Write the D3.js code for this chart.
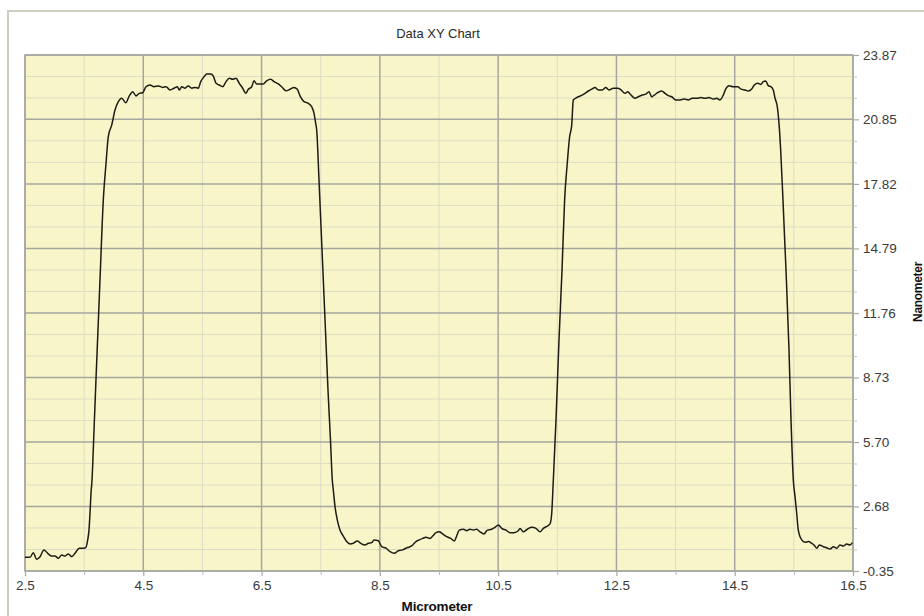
<!DOCTYPE html>
<html>
<head>
<meta charset="utf-8">
<script src="https://cdn.jsdelivr.net/npm/d3@7"></script>
<style>
  html, body { margin: 0; padding: 0; background: #ffffff; }
  svg { display: block; font-family: "Liberation Sans", Arial, sans-serif; }
</style>
</head>
<body>
<svg id="chart" width="924" height="616"></svg>
<script>
// ---------------- DATA ----------------
const chartTitle = "Data XY Chart";
const xAxisTitle = "Micrometer";
const yAxisTitle = "Nanometer";

const xTickLabels = ["2.5", "4.5", "6.5", "8.5", "10.5", "12.5", "14.5", "16.5"];
const yTickLabels = ["-0.35", "2.68", "5.70", "8.73", "11.76", "14.79", "17.82", "20.85", "23.87"];

const xValues = [
  2.500, 2.585, 2.640, 2.698, 2.754, 2.821, 2.894, 2.951, 3.007, 3.063, 3.121, 3.176, 3.232, 3.290, 3.345, 3.418, 3.486, 3.526, 3.560, 3.582, 3.599, 3.616, 3.633,
  3.667, 3.700, 3.734, 3.768, 3.824, 3.870, 3.908, 3.966, 4.022, 4.078, 4.135, 4.203, 4.264, 4.321, 4.377, 4.433, 4.490, 4.546, 4.614, 4.681, 4.754, 4.828, 4.884,
  4.952, 5.019, 5.075, 5.109, 5.150, 5.205, 5.261, 5.319, 5.374, 5.430, 5.471, 5.527, 5.572, 5.640, 5.684, 5.730, 5.785, 5.843, 5.899, 5.954, 6.012, 6.068,
  6.123, 6.181, 6.232, 6.276, 6.333, 6.372, 6.418, 6.473, 6.529, 6.587, 6.654, 6.710, 6.783, 6.840, 6.913, 6.981, 7.048, 7.104, 7.150, 7.218, 7.290, 7.348,
  7.387, 7.415, 7.432, 7.471, 7.522, 7.573, 7.623, 7.665, 7.696, 7.713, 7.742, 7.781, 7.826, 7.882, 7.939, 7.995, 8.051, 8.118, 8.176, 8.249, 8.305, 8.362,
  8.401, 8.474, 8.531, 8.604, 8.672, 8.744, 8.812, 8.886, 8.942, 9.010, 9.055, 9.111, 9.167, 9.224, 9.280, 9.348, 9.393, 9.449, 9.505, 9.562, 9.630, 9.698,
  9.759, 9.799, 9.843, 9.911, 9.968, 10.024, 10.080, 10.137, 10.193, 10.260, 10.317, 10.391, 10.447, 10.503, 10.560, 10.633, 10.701, 10.768, 10.841, 10.870,
  10.925, 10.993, 11.067, 11.140, 11.208, 11.264, 11.331, 11.377, 11.406, 11.423, 11.433, 11.478, 11.529, 11.580, 11.624, 11.669, 11.708, 11.744, 11.771,
  11.828, 11.901, 11.969, 12.025, 12.082, 12.138, 12.194, 12.262, 12.319, 12.375, 12.447, 12.522, 12.577, 12.645, 12.691, 12.746, 12.814, 12.870, 12.937,
  12.995, 13.051, 13.096, 13.140, 13.208, 13.266, 13.321, 13.377, 13.435, 13.502, 13.575, 13.648, 13.715, 13.783, 13.857, 13.930, 13.998, 14.065, 14.138,
  14.195, 14.251, 14.307, 14.347, 14.403, 14.476, 14.550, 14.606, 14.674, 14.730, 14.787, 14.831, 14.889, 14.944, 14.983, 15.024, 15.068, 15.113, 15.152,
  15.181, 15.220, 15.249, 15.277, 15.316, 15.367, 15.418, 15.452, 15.491, 15.520, 15.548, 15.575, 15.633, 15.689, 15.745, 15.802, 15.841, 15.887, 15.931,
  15.999, 16.056, 16.112, 16.168, 16.225, 16.280, 16.336, 16.393, 16.449, 16.488
];

const yValues = [
  0.29, 0.29, 0.51, 0.20, 0.32, 0.64, 0.45, 0.35, 0.35, 0.25, 0.40, 0.35, 0.45, 0.32, 0.48, 0.72, 0.72, 0.74, 1.11, 1.57, 2.36, 3.30, 3.92,
  6.27, 8.62, 10.96, 13.31, 17.06, 18.79, 20.04, 20.58, 21.29, 21.68, 21.84, 21.63, 21.95, 22.15, 21.95, 22.07, 22.10, 22.38, 22.46, 22.38, 22.42, 22.35, 22.38,
  22.23, 22.31, 22.38, 22.23, 22.38, 22.31, 22.42, 22.31, 22.35, 22.31, 22.62, 22.85, 22.98, 22.98, 22.88, 22.54, 22.46, 22.38, 22.62, 22.78, 22.73, 22.78,
  22.54, 22.31, 22.07, 22.26, 22.38, 22.66, 22.51, 22.51, 22.51, 22.66, 22.73, 22.62, 22.51, 22.38, 22.19, 22.26, 22.35, 22.26, 21.95, 21.68, 21.60, 21.44,
  21.13, 20.66, 20.35, 18.00, 14.72, 11.43, 8.15, 5.80, 3.92, 3.45, 2.67, 2.04, 1.57, 1.29, 1.03, 0.92, 0.95, 1.06, 0.95, 0.87, 0.95, 0.98,
  1.11, 1.07, 0.79, 0.72, 0.56, 0.48, 0.60, 0.64, 0.72, 0.79, 0.87, 1.03, 1.11, 1.18, 1.23, 1.18, 1.29, 1.45, 1.49, 1.39, 1.26, 1.18,
  1.06, 1.29, 1.57, 1.61, 1.54, 1.61, 1.57, 1.61, 1.49, 1.39, 1.57, 1.61, 1.70, 1.81, 1.65, 1.57, 1.45, 1.45, 1.54, 1.65,
  1.49, 1.61, 1.70, 1.65, 1.49, 1.65, 1.76, 1.86, 2.36, 3.30, 3.92, 6.74, 10.49, 13.78, 17.06, 18.80, 20.02, 20.58, 21.76,
  21.87, 21.96, 22.07, 22.18, 22.27, 22.34, 22.23, 22.23, 22.34, 22.23, 22.31, 22.31, 22.23, 22.07, 22.15, 21.99, 21.84, 21.91, 21.99,
  22.03, 22.15, 21.91, 21.99, 22.12, 22.18, 22.07, 21.96, 21.91, 21.76, 21.76, 21.80, 21.76, 21.84, 21.84, 21.87, 21.84, 21.87, 21.80,
  21.84, 21.76, 21.99, 22.27, 22.43, 22.38, 22.38, 22.27, 22.23, 22.18, 22.27, 22.46, 22.54, 22.49, 22.62, 22.65, 22.43, 22.38, 22.23,
  21.85, 21.44, 20.66, 19.41, 17.06, 13.78, 10.02, 6.74, 3.92, 3.14, 2.36, 1.57, 1.11, 1.00, 1.03, 0.95, 0.87, 0.72, 0.87,
  0.79, 0.74, 0.68, 0.79, 0.72, 0.87, 0.82, 0.92, 0.87, 0.98
];

// ---------------- CHART ----------------
const svg = d3.select("#chart");
const W = 924, H = 616;
const plot = { left: 25, right: 853, top: 55, bottom: 571 };

const yTickValues = yTickLabels.map(Number);
const xTickValues = xTickLabels.map(Number);

const x = d3.scaleLinear().domain([xTickValues[0], xTickValues[xTickValues.length - 1]]).range([plot.left, plot.right]);
const y = d3.scaleLinear().domain([yTickValues[0], yTickValues[yTickValues.length - 1]]).range([plot.bottom, plot.top]);

// outer frame
svg.append("rect")
  .attr("x", 8).attr("y", 11).attr("width", W + 10).attr("height", H + 10)
  .attr("fill", "#ffffff").attr("stroke", "#cdcdc0").attr("stroke-width", 2);

// plot background
svg.append("rect")
  .attr("x", plot.left).attr("y", plot.top)
  .attr("width", plot.right - plot.left).attr("height", plot.bottom - plot.top)
  .attr("fill", "#f8f6c9");

// minor ticks values
const xMinor = [];
for (let i = 0; i < xTickValues.length - 1; i++) {
  xMinor.push((xTickValues[i] + xTickValues[i + 1]) / 2);
}
const yMinor = [];
for (let i = 0; i < yTickValues.length - 1; i++) {
  const a = yTickValues[i], b = yTickValues[i + 1];
  yMinor.push(a + (b - a) / 3, a + 2 * (b - a) / 3);
}

const grid = svg.append("g");
// minor grid
grid.selectAll("line.xminor").data(xMinor).join("line")
  .attr("x1", d => x(d)).attr("x2", d => x(d))
  .attr("y1", plot.top).attr("y2", plot.bottom)
  .attr("stroke", "#dcdcc4").attr("stroke-width", 1);
grid.selectAll("line.yminor").data(yMinor).join("line")
  .attr("y1", d => y(d)).attr("y2", d => y(d))
  .attr("x1", plot.left).attr("x2", plot.right)
  .attr("stroke", "#dcdcc4").attr("stroke-width", 1);
// major grid
grid.selectAll("line.xmajor").data(xTickValues).join("line")
  .attr("x1", d => x(d)).attr("x2", d => x(d))
  .attr("y1", plot.top).attr("y2", plot.bottom)
  .attr("stroke", "#a6a6a0").attr("stroke-width", 1.5);
grid.selectAll("line.ymajor").data(yTickValues).join("line")
  .attr("y1", d => y(d)).attr("y2", d => y(d))
  .attr("x1", plot.left).attr("x2", plot.right)
  .attr("stroke", "#a6a6a0").attr("stroke-width", 1.5);

// plot border
svg.append("rect")
  .attr("x", plot.left).attr("y", plot.top)
  .attr("width", plot.right - plot.left).attr("height", plot.bottom - plot.top)
  .attr("fill", "none").attr("stroke", "#a8a8a2").attr("stroke-width", 1.5);

// bottom axis
const xAxis = d3.axisBottom(x)
  .tickValues(xTickValues)
  .tickFormat((d, i) => xTickLabels[i])
  .tickSize(5).tickPadding(4);
const gx = svg.append("g").attr("transform", `translate(0,${plot.bottom})`).call(xAxis);
gx.select(".domain").remove();
gx.selectAll(".tick line").attr("stroke", "#a8a8a2").attr("stroke-width", 1.2);
gx.selectAll(".tick text").attr("fill", "#3a3a3a").style("font-size", "13.5px");
const gxm = svg.append("g").attr("transform", `translate(0,${plot.bottom})`)
  .call(d3.axisBottom(x).tickValues(xMinor).tickFormat("").tickSize(4));
gxm.select(".domain").remove();
gxm.selectAll(".tick line").attr("stroke", "#b8b8b0");

// right axis
const yAxis = d3.axisRight(y)
  .tickValues(yTickValues)
  .tickFormat((d, i) => yTickLabels[i])
  .tickSize(6).tickPadding(4);
const gy = svg.append("g").attr("transform", `translate(${plot.right},0)`).call(yAxis);
gy.select(".domain").remove();
gy.selectAll(".tick line").attr("stroke", "#a8a8a2").attr("stroke-width", 1.2);
gy.selectAll(".tick text").attr("fill", "#3a3a3a").style("font-size", "13.5px");
const gym = svg.append("g").attr("transform", `translate(${plot.right},0)`)
  .call(d3.axisRight(y).tickValues(yMinor).tickFormat("").tickSize(4));
gym.select(".domain").remove();
gym.selectAll(".tick line").attr("stroke", "#c4c4bc");

// data line
const pts = xValues.map((v, i) => [v, yValues[i]]);
const line = d3.line().x(d => x(d[0])).y(d => y(d[1])).curve(d3.curveMonotoneX);
svg.append("path")
  .datum(pts)
  .attr("d", line)
  .attr("fill", "none")
  .attr("stroke", "#1c1c14")
  .attr("stroke-width", 1.5)
  .attr("stroke-linejoin", "round");

// titles
svg.append("text")
  .attr("x", 438).attr("y", 38)
  .attr("text-anchor", "middle")
  .attr("fill", "#2a2a2a")
  .style("font-size", "13px")
  .text(chartTitle);

svg.append("text")
  .attr("x", 437).attr("y", 611)
  .attr("text-anchor", "middle")
  .attr("fill", "#111")
  .style("font-size", "13.5px").style("font-weight", "bold").style("letter-spacing", "-0.2px")
  .text(xAxisTitle);

svg.append("text")
  .attr("transform", "translate(922,292) rotate(-90)")
  .attr("text-anchor", "middle")
  .attr("fill", "#111")
  .style("font-size", "12px").style("font-weight", "bold").style("letter-spacing", "-0.3px")
  .text(yAxisTitle);
</script>
</body>
</html>
